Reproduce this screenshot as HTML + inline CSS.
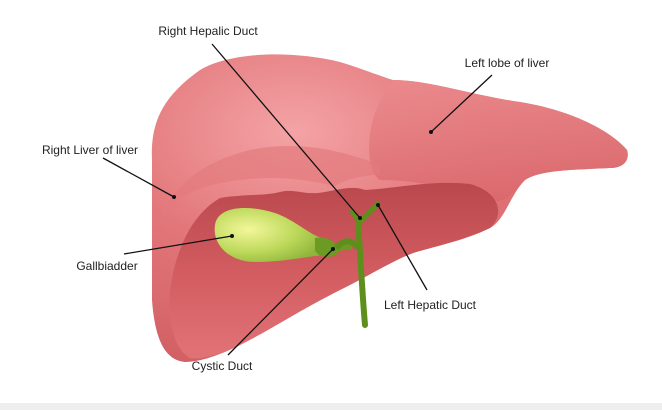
<!DOCTYPE html>
<html><head><style>
html,body{margin:0;padding:0;background:#fff;}
svg{display:block}
text{font-family:"Liberation Sans",sans-serif;font-size:12px;fill:#222}
</style></head><body>
<svg width="662" height="410" viewBox="0 0 662 410">
<defs>
<radialGradient id="lv" cx="0.3" cy="0.25" r="0.8">
<stop offset="0" stop-color="#f4a3a6"/><stop offset="0.5" stop-color="#e27679"/><stop offset="1" stop-color="#d15f63"/></radialGradient>
<linearGradient id="low" x1="0" y1="0" x2="0" y2="1">
<stop offset="0" stop-color="#b9484d"/><stop offset="0.5" stop-color="#d25c60"/><stop offset="1" stop-color="#e17377"/></linearGradient>
<radialGradient id="gb" cx="0.3" cy="0.4" r="0.7">
<stop offset="0" stop-color="#f3f79a"/><stop offset="0.6" stop-color="#bcd85a"/><stop offset="1" stop-color="#8fb63c"/></radialGradient>
<linearGradient id="ll" x1="0" y1="0" x2="0" y2="1">
<stop offset="0" stop-color="#eb8a8d"/><stop offset="1" stop-color="#d9676b"/></linearGradient>
</defs>
<rect x="0" y="403" width="662" height="7" fill="#eeeeee"/>
<path d="M152,160 C150,120 165,95 200,70 C230,52 290,50 340,62 C360,68 380,76 393,80 C430,80 470,95 520,102 C570,110 610,130 627,150 C630,160 624,168 610,168 C570,170 540,170 525,180 C510,195 505,220 490,228 C465,240 440,245 413,253 C390,262 370,275 340,290 C300,310 270,330 240,345 C220,355 200,362 185,362 C165,360 155,340 152,300 Z" fill="url(#lv)"/>
<path d="M393,80 C430,80 470,95 520,102 C570,110 610,130 627,150 C630,160 624,168 610,168 C570,170 540,170 525,180 C510,195 505,205 490,200 C460,190 420,180 380,180 C365,170 362,120 393,80 Z" fill="url(#ll)" opacity="0.8"/>
<path d="M220,198 C245,194 265,196 280,192 C295,188 305,196 325,192 C345,188 355,186 365,190 C400,188 430,180 470,184 C500,192 505,215 490,228 C465,240 440,245 413,253 C390,262 370,275 340,290 C300,310 270,330 240,345 C220,355 200,360 190,358 C168,345 165,300 175,265 C185,230 200,210 220,198 Z" fill="url(#low)"/>
<path d="M160,220 C175,195 200,185 240,180 C270,176 300,178 335,186 C345,180 360,175 380,175 L380,165 C340,150 300,140 250,150 C210,160 175,180 160,220 Z" fill="#e27b7e" opacity="0.7"/>
<path d="M215,225 C218,205 250,205 275,213 C295,220 310,235 322,238 C330,240 332,252 322,255 C300,258 280,262 255,262 C230,262 212,245 215,225 Z" fill="url(#gb)"/>
<path d="M315,238 C325,236 332,240 336,244 C340,240 348,238 352,242 L352,250 C345,248 340,250 336,255 C330,258 318,258 315,250 Z" fill="#6d9a22"/>
<path d="M358,220 C360,250 362,290 365,325" stroke="#5e8f1c" stroke-width="6" fill="none" stroke-linecap="round"/>
<path d="M360,222 L352,212 M360,222 C366,215 372,210 378,204" stroke="#5e8f1c" stroke-width="5" fill="none" stroke-linecap="round"/>
<path d="M336,248 C345,238 352,240 358,248" stroke="#5e8f1c" stroke-width="6" fill="none"/>
<g stroke="#111" stroke-width="1.3">
<line x1="212" y1="44" x2="360" y2="218"/>
<line x1="492" y1="75" x2="431" y2="132"/>
<line x1="103" y1="158" x2="174" y2="197"/>
<line x1="124" y1="254" x2="232" y2="236"/>
<line x1="427" y1="290" x2="378" y2="205"/>
<line x1="228" y1="355" x2="333" y2="249"/>
</g>
<g fill="#111">
<circle cx="360" cy="218" r="2"/><circle cx="431" cy="132" r="2"/><circle cx="174" cy="197" r="2"/>
<circle cx="232" cy="236" r="2"/><circle cx="378" cy="205" r="2"/><circle cx="333" cy="249" r="2"/>
</g>
<text x="208" y="35" text-anchor="middle">Right Hepalic Duct</text>
<text x="507" y="67" text-anchor="middle">Left lobe of liver</text>
<text x="90" y="154" text-anchor="middle">Right Liver of liver</text>
<text x="107" y="270" text-anchor="middle">Gallbiadder</text>
<text x="430" y="309" text-anchor="middle">Left Hepatic Duct</text>
<text x="222" y="370" text-anchor="middle">Cystic Duct</text>
</svg>
</body></html>
